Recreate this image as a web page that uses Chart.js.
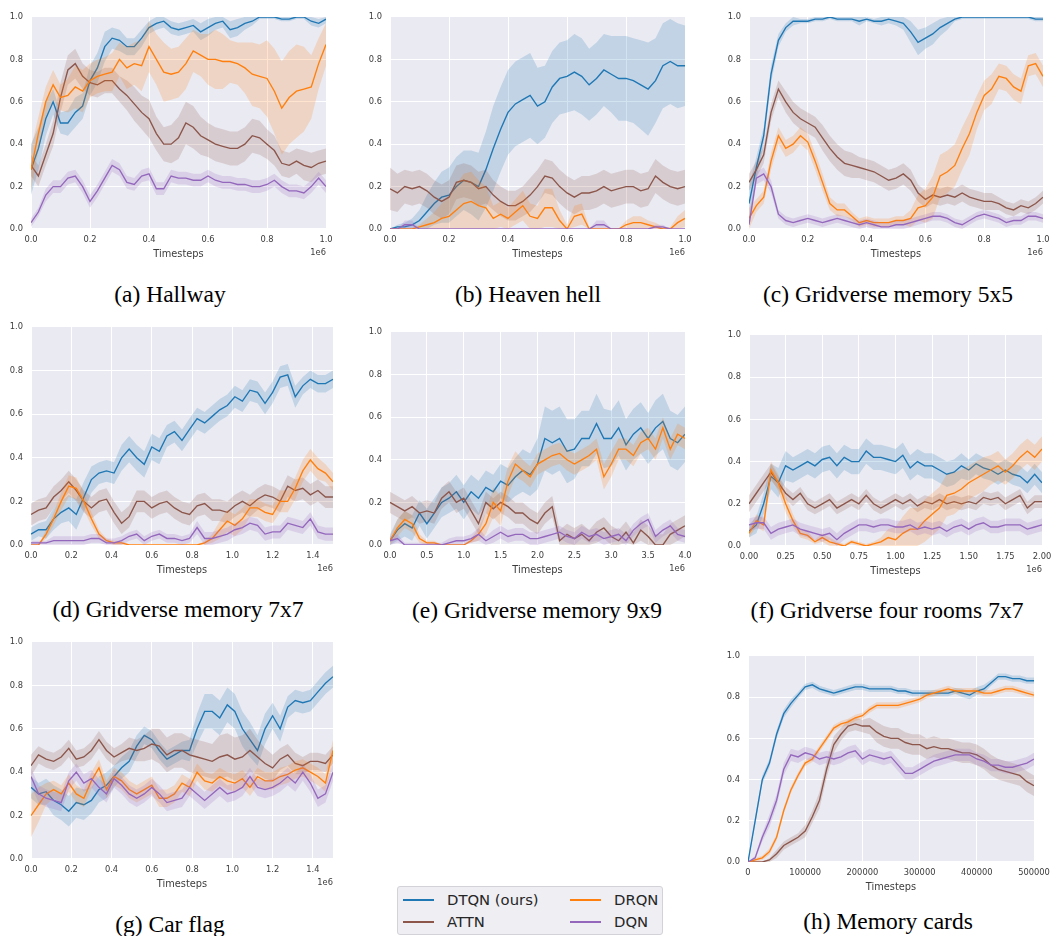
<!DOCTYPE html>
<html>
<head>
<meta charset="utf-8">
<script src="https://cdn.jsdelivr.net/npm/chart.js@4.4.1/dist/chart.umd.min.js"></script>
<style>
  body { margin: 0; width: 1052px; height: 936px; background: #fff; position: relative; overflow: hidden; }
  .panel { position: absolute; }
  .cap { position: absolute; width: 320px; height: 26px; line-height: 26px; text-align: center; white-space: nowrap;
         font-family: "Liberation Serif", "Times New Roman", serif; font-size: 23.5px; color: #000; }
  #legend { position: absolute; left: 397px; top: 886px; width: 264px; height: 47px; border: 1px solid #d2d2d8;
            border-radius: 3px; background: #eeeef3; font-family: "DejaVu Sans", sans-serif; font-size: 14.8px; color: #262626; }
  .li { position: absolute; height: 20px; line-height: 20px; white-space: nowrap; }
  .sw { display: inline-block; width: 31px; height: 2px; vertical-align: middle; margin-right: 13px; position: relative; top: -1px; }
</style>
</head>
<body>
<div id="legend"></div>
<script>
// ---- Series names / colours ----
const seriesNames = ["DTQN (ours)", "ATTN", "DRQN", "DQN"];
const seriesRGB = ["31,119,180", "140,86,75", "255,127,14", "148,103,189"];

// ---- Tick values ----
const yTicks = [0, 0.2, 0.4, 0.6, 0.8, 1.0];
const xTicksUnit = [0, 0.2, 0.4, 0.6, 0.8, 1.0];
const xTicks15 = [0, 0.2, 0.4, 0.6, 0.8, 1.0, 1.2, 1.4];
const xTicks4 = [0, 0.5, 1.0, 1.5, 2.0, 2.5, 3.0, 3.5, 4.0];
const xTicks2 = [0, 0.25, 0.5, 0.75, 1.0, 1.25, 1.5, 1.75, 2.0];
const xTicksCards = [0, 100000, 200000, 300000, 400000, 500000];

// ---- (a) Hallway ----
const hallwayDTQN = [0.28,0.38,0.52,0.6,0.5,0.5,0.55,0.58,0.7,0.76,0.86,0.9,0.89,0.86,0.86,0.9,0.95,0.97,0.98,0.95,0.94,0.95,0.96,0.93,0.95,0.97,0.98,0.94,0.95,0.97,0.98,1.0,1.0,1.0,0.99,0.99,1.0,1.0,0.98,0.97,0.99];
const hallwayDTQNsd = [0.12,0.1,0.08,0.06,0.05,0.06,0.07,0.06,0.07,0.07,0.07,0.05,0.05,0.04,0.04,0.04,0.03,0.03,0.03,0.03,0.03,0.03,0.03,0.04,0.04,0.03,0.03,0.04,0.04,0.03,0.02,0.01,0.01,0.01,0.01,0.01,0.01,0.01,0.02,0.02,0.02];
const hallwayATTN = [0.3,0.25,0.35,0.45,0.62,0.75,0.78,0.72,0.69,0.68,0.7,0.7,0.66,0.63,0.59,0.55,0.52,0.45,0.4,0.4,0.43,0.5,0.48,0.44,0.42,0.4,0.39,0.38,0.38,0.4,0.44,0.43,0.4,0.37,0.31,0.3,0.32,0.3,0.29,0.31,0.32];
const hallwayATTNsd = [0.05,0.05,0.05,0.06,0.07,0.07,0.07,0.06,0.06,0.06,0.06,0.06,0.06,0.07,0.08,0.08,0.09,0.08,0.08,0.09,0.1,0.1,0.1,0.09,0.08,0.08,0.08,0.08,0.08,0.08,0.08,0.08,0.07,0.07,0.06,0.06,0.06,0.07,0.07,0.06,0.06];
const hallwayDRQN = [0.28,0.45,0.6,0.68,0.62,0.63,0.67,0.65,0.7,0.72,0.73,0.74,0.8,0.76,0.78,0.77,0.86,0.8,0.74,0.73,0.74,0.78,0.84,0.82,0.8,0.8,0.79,0.79,0.78,0.76,0.73,0.72,0.71,0.65,0.57,0.62,0.65,0.66,0.67,0.78,0.87];
const hallwayDRQNsd = [0.1,0.08,0.07,0.07,0.06,0.08,0.1,0.1,0.08,0.08,0.08,0.09,0.08,0.1,0.1,0.12,0.12,0.12,0.14,0.12,0.12,0.12,0.1,0.1,0.12,0.14,0.13,0.1,0.1,0.12,0.15,0.15,0.18,0.2,0.22,0.22,0.22,0.2,0.15,0.12,0.1];
const hallwayDQN = [0.03,0.08,0.16,0.2,0.2,0.24,0.25,0.2,0.13,0.18,0.24,0.3,0.28,0.22,0.21,0.25,0.26,0.19,0.19,0.25,0.24,0.24,0.23,0.23,0.25,0.23,0.22,0.22,0.21,0.21,0.2,0.2,0.21,0.23,0.2,0.18,0.18,0.17,0.2,0.24,0.2];
const hallwayDQNsd = [0.02,0.02,0.03,0.03,0.03,0.03,0.03,0.03,0.03,0.03,0.03,0.03,0.03,0.03,0.03,0.03,0.03,0.03,0.03,0.03,0.03,0.03,0.03,0.03,0.03,0.03,0.03,0.03,0.03,0.03,0.03,0.03,0.03,0.03,0.03,0.03,0.03,0.03,0.03,0.03,0.03];

// ---- (b) Heaven hell ----
const heavenDTQN = [0,0.01,0.01,0.02,0.04,0.08,0.12,0.15,0.16,0.2,0.23,0.22,0.2,0.28,0.38,0.47,0.55,0.59,0.61,0.63,0.58,0.6,0.67,0.71,0.72,0.74,0.72,0.68,0.71,0.75,0.73,0.71,0.71,0.7,0.68,0.66,0.7,0.77,0.79,0.77,0.77];
const heavenDTQNsd = [0,0.01,0.02,0.03,0.05,0.08,0.1,0.12,0.13,0.14,0.14,0.15,0.16,0.18,0.2,0.2,0.2,0.2,0.2,0.2,0.18,0.17,0.17,0.17,0.17,0.18,0.18,0.17,0.17,0.17,0.18,0.2,0.2,0.2,0.21,0.22,0.2,0.2,0.2,0.2,0.19];
const heavenATTN = [0.19,0.17,0.2,0.19,0.2,0.18,0.15,0.13,0.15,0.22,0.23,0.22,0.19,0.2,0.16,0.13,0.11,0.11,0.13,0.16,0.2,0.25,0.24,0.2,0.17,0.15,0.17,0.17,0.18,0.2,0.18,0.19,0.2,0.2,0.18,0.19,0.25,0.22,0.2,0.19,0.2];
const heavenATTNsd = [0.1,0.09,0.08,0.08,0.08,0.08,0.08,0.08,0.08,0.08,0.08,0.08,0.08,0.08,0.07,0.07,0.07,0.07,0.07,0.08,0.08,0.08,0.08,0.08,0.08,0.08,0.08,0.08,0.08,0.08,0.08,0.08,0.08,0.08,0.08,0.08,0.08,0.08,0.08,0.08,0.08];
const heavenDRQN = [0,0,0,0,0.01,0.02,0.03,0.05,0.06,0.09,0.12,0.13,0.11,0.1,0.05,0.07,0.05,0.08,0.11,0.06,0.05,0.1,0.1,0.04,0,0.06,0.07,0,0,0,0,0,0.02,0.03,0.03,0.02,0.01,0,0,0.03,0.05];
const heavenDRQNsd = [0,0,0,0,0.01,0.03,0.05,0.07,0.09,0.12,0.14,0.14,0.12,0.1,0.06,0.06,0.05,0.06,0.07,0.06,0.06,0.09,0.09,0.05,0.02,0.05,0.05,0.01,0,0,0,0,0.02,0.03,0.03,0.02,0.02,0.01,0.01,0.03,0.04];
const heavenDQN = [0,0,0.02,0.02,0,0,0,0,0,0,0,0,0,0,0,0,0,0,0,0,0,0,0,0,0,0,0,0,0.02,0.02,0,0,0,0,0,0,0.01,0.01,0,0,0];
const heavenDQNsd = [0,0,0.02,0.02,0,0,0,0,0,0,0,0,0,0,0,0,0,0,0,0,0,0,0,0,0,0,0,0,0.02,0.02,0,0,0,0,0,0,0.01,0.01,0,0,0];

// ---- (c) Gridverse memory 5x5 ----
const mem5DTQN = [0.12,0.29,0.44,0.73,0.89,0.95,0.98,0.98,0.98,0.99,0.99,1.0,0.99,0.99,0.99,0.98,0.99,0.98,0.98,0.99,0.98,0.97,0.93,0.88,0.9,0.92,0.95,0.97,0.99,1.0,1.0,1.0,1.0,1.0,1.0,1.0,1.0,1.0,1.0,0.99,0.99];
const mem5DTQNsd = [0.08,0.05,0.04,0.04,0.03,0.02,0.02,0.01,0.01,0.01,0.01,0.01,0.01,0.01,0.01,0.02,0.01,0.01,0.02,0.02,0.02,0.03,0.05,0.06,0.05,0.05,0.04,0.03,0.01,0.01,0.01,0.01,0.01,0.01,0.01,0.01,0.01,0.01,0.01,0.01,0.01];
const mem5ATTN = [0.22,0.28,0.35,0.55,0.66,0.6,0.55,0.52,0.5,0.48,0.43,0.38,0.34,0.31,0.3,0.29,0.28,0.27,0.25,0.23,0.24,0.26,0.23,0.17,0.14,0.16,0.15,0.16,0.15,0.17,0.15,0.14,0.13,0.13,0.12,0.1,0.09,0.11,0.1,0.12,0.15];
const mem5ATTNsd = [0.04,0.04,0.04,0.04,0.04,0.05,0.05,0.05,0.05,0.05,0.06,0.06,0.06,0.06,0.06,0.05,0.05,0.05,0.05,0.05,0.05,0.05,0.05,0.04,0.04,0.04,0.04,0.04,0.04,0.04,0.04,0.04,0.04,0.04,0.03,0.03,0.03,0.03,0.03,0.03,0.03];
const mem5DRQN = [0.05,0.11,0.15,0.32,0.44,0.38,0.4,0.44,0.41,0.32,0.22,0.12,0.09,0.09,0.06,0.03,0.04,0.03,0.03,0.03,0.04,0.04,0.05,0.1,0.11,0.15,0.25,0.27,0.3,0.38,0.45,0.55,0.63,0.66,0.72,0.71,0.67,0.65,0.77,0.78,0.72];
const mem5DRQNsd = [0.05,0.03,0.03,0.04,0.04,0.04,0.04,0.04,0.04,0.04,0.04,0.03,0.03,0.03,0.02,0.02,0.02,0.02,0.02,0.02,0.02,0.02,0.04,0.06,0.08,0.1,0.1,0.1,0.1,0.1,0.1,0.08,0.07,0.07,0.06,0.06,0.06,0.06,0.05,0.05,0.05];
const mem5DQN = [0.02,0.24,0.26,0.2,0.07,0.04,0.03,0.04,0.05,0.04,0.03,0.04,0.05,0.04,0.03,0.02,0.03,0.02,0.01,0.01,0.02,0.02,0.03,0.04,0.05,0.06,0.06,0.05,0.03,0.02,0.04,0.06,0.07,0.06,0.05,0.03,0.04,0.04,0.06,0.06,0.05];
const mem5DQNsd = [0.03,0.03,0.03,0.03,0.02,0.02,0.02,0.02,0.02,0.02,0.02,0.02,0.02,0.02,0.02,0.02,0.02,0.02,0.02,0.02,0.02,0.02,0.02,0.02,0.02,0.02,0.02,0.02,0.02,0.02,0.02,0.02,0.02,0.02,0.02,0.02,0.02,0.02,0.02,0.02,0.02];

// ---- (d) Gridverse memory 7x7 ----
const mem7DTQN = [0.05,0.07,0.07,0.12,0.15,0.17,0.14,0.22,0.3,0.33,0.34,0.33,0.4,0.44,0.4,0.37,0.45,0.43,0.5,0.52,0.48,0.53,0.58,0.56,0.59,0.62,0.64,0.68,0.66,0.71,0.7,0.65,0.7,0.77,0.78,0.68,0.73,0.76,0.74,0.74,0.76];
const mem7DTQNsd = [0.03,0.03,0.04,0.05,0.05,0.06,0.07,0.07,0.06,0.05,0.05,0.05,0.06,0.06,0.06,0.06,0.06,0.06,0.05,0.05,0.05,0.05,0.05,0.05,0.05,0.05,0.05,0.05,0.05,0.05,0.05,0.05,0.05,0.05,0.05,0.05,0.04,0.04,0.04,0.04,0.04];
const mem7ATTN = [0.14,0.16,0.17,0.22,0.25,0.29,0.25,0.2,0.17,0.2,0.21,0.15,0.1,0.13,0.2,0.2,0.17,0.19,0.2,0.17,0.15,0.14,0.18,0.19,0.16,0.16,0.15,0.18,0.2,0.18,0.21,0.23,0.22,0.2,0.27,0.25,0.26,0.23,0.25,0.22,0.22];
const mem7ATTNsd = [0.05,0.05,0.05,0.05,0.05,0.05,0.05,0.05,0.05,0.05,0.05,0.05,0.05,0.05,0.05,0.05,0.05,0.05,0.05,0.05,0.05,0.05,0.05,0.05,0.05,0.05,0.05,0.05,0.05,0.05,0.05,0.05,0.05,0.05,0.05,0.05,0.05,0.05,0.05,0.05,0.05];
const mem7DRQN = [0,0,0.05,0.12,0.2,0.27,0.26,0.2,0.12,0.05,0.02,0.01,0.01,0,0,0,0,0,0,0,0,0,0,0.01,0.03,0.07,0.11,0.09,0.12,0.17,0.17,0.15,0.14,0.2,0.2,0.26,0.34,0.39,0.35,0.33,0.29];
const mem7DRQNsd = [0,0,0.02,0.03,0.04,0.05,0.05,0.04,0.03,0.02,0.01,0.01,0.01,0,0,0,0,0,0,0,0,0,0,0.01,0.02,0.04,0.05,0.05,0.05,0.04,0.04,0.04,0.04,0.05,0.05,0.05,0.05,0.05,0.05,0.04,0.04];
const mem7DQN = [0.01,0.01,0.01,0.02,0.02,0.02,0.02,0.02,0.03,0.03,0.01,0.01,0.02,0.04,0.05,0.02,0.04,0.05,0.03,0.03,0.02,0.03,0.08,0.03,0.03,0.04,0.05,0.07,0.08,0.1,0.09,0.05,0.06,0.06,0.1,0.09,0.08,0.12,0.06,0.05,0.05];
const mem7DQNsd = [0.01,0.01,0.01,0.02,0.02,0.02,0.02,0.02,0.02,0.02,0.02,0.02,0.02,0.02,0.02,0.02,0.02,0.02,0.02,0.02,0.02,0.02,0.03,0.03,0.03,0.03,0.03,0.03,0.03,0.03,0.03,0.03,0.03,0.03,0.03,0.03,0.03,0.03,0.03,0.03,0.03];

// ---- (e) Gridverse memory 9x9 ----
const mem9DTQN = [0.02,0.07,0.1,0.08,0.15,0.1,0.15,0.2,0.22,0.25,0.2,0.25,0.22,0.27,0.25,0.3,0.28,0.32,0.35,0.33,0.38,0.5,0.48,0.5,0.44,0.45,0.5,0.5,0.57,0.5,0.5,0.55,0.47,0.52,0.55,0.5,0.55,0.58,0.5,0.48,0.52];
const mem9DTQNsd = [0.03,0.05,0.06,0.06,0.06,0.07,0.07,0.07,0.07,0.08,0.08,0.08,0.08,0.08,0.08,0.08,0.08,0.09,0.1,0.1,0.12,0.15,0.15,0.15,0.15,0.14,0.13,0.13,0.14,0.14,0.13,0.13,0.12,0.12,0.12,0.12,0.13,0.13,0.13,0.13,0.13];
const mem9ATTN = [0.2,0.18,0.16,0.18,0.15,0.16,0.15,0.22,0.25,0.2,0.22,0.16,0.1,0.2,0.17,0.2,0.18,0.15,0.15,0.12,0.1,0.15,0.18,0.02,0.05,0.03,0.05,0.02,0.06,0.08,0.04,0.02,0.06,0.01,0.07,0.04,0,0,0.05,0.07,0.09];
const mem9ATTNsd = [0.05,0.05,0.05,0.05,0.05,0.05,0.05,0.05,0.05,0.05,0.05,0.05,0.05,0.05,0.05,0.05,0.05,0.05,0.05,0.05,0.05,0.05,0.05,0.05,0.05,0.05,0.05,0.05,0.05,0.05,0.05,0.05,0.05,0.05,0.05,0.05,0.05,0.05,0.05,0.05,0.05];
const mem9DRQN = [0.02,0.08,0.12,0.1,0.03,0.01,0.01,0,0,0,0,0.02,0.05,0.1,0.2,0.16,0.3,0.38,0.35,0.32,0.38,0.4,0.42,0.43,0.4,0.38,0.4,0.42,0.45,0.32,0.38,0.45,0.45,0.42,0.48,0.5,0.45,0.55,0.45,0.52,0.5];
const mem9DRQNsd = [0.02,0.04,0.04,0.04,0.02,0.01,0.01,0,0,0,0,0.01,0.03,0.05,0.07,0.07,0.07,0.06,0.05,0.05,0.05,0.05,0.05,0.05,0.05,0.05,0.05,0.05,0.05,0.06,0.06,0.05,0.05,0.05,0.05,0.05,0.05,0.05,0.05,0.05,0.05];
const mem9DQN = [0.02,0.03,0,0,0,0,0,0,0.01,0.02,0.02,0.03,0.05,0.02,0.04,0.06,0.04,0.05,0.05,0.03,0.03,0.04,0.05,0.06,0.04,0.03,0.06,0.04,0.05,0.03,0.04,0.05,0.02,0.07,0.1,0.12,0.04,0.07,0.09,0.05,0.04];
const mem9DQNsd = [0.02,0.02,0.01,0.01,0.01,0.01,0.01,0.01,0.02,0.02,0.02,0.02,0.03,0.02,0.03,0.03,0.03,0.03,0.03,0.03,0.03,0.03,0.03,0.03,0.03,0.03,0.03,0.03,0.03,0.03,0.03,0.03,0.03,0.03,0.03,0.03,0.03,0.03,0.03,0.03,0.03];

// ---- (f) Gridverse four rooms 7x7 ----
const roomsDTQN = [0.07,0.1,0.2,0.33,0.3,0.38,0.36,0.38,0.4,0.38,0.41,0.42,0.38,0.42,0.4,0.4,0.45,0.42,0.42,0.41,0.4,0.43,0.37,0.4,0.38,0.38,0.36,0.34,0.35,0.38,0.36,0.39,0.37,0.36,0.34,0.36,0.34,0.33,0.3,0.34,0.3];
const roomsDTQNsd = [0.03,0.04,0.05,0.06,0.07,0.07,0.06,0.06,0.06,0.06,0.06,0.06,0.06,0.06,0.06,0.06,0.06,0.06,0.06,0.06,0.06,0.06,0.06,0.06,0.06,0.06,0.06,0.06,0.06,0.06,0.05,0.05,0.05,0.05,0.05,0.05,0.05,0.05,0.05,0.05,0.05];
const roomsATTN = [0.2,0.25,0.3,0.35,0.3,0.25,0.22,0.25,0.2,0.18,0.2,0.22,0.18,0.2,0.22,0.2,0.24,0.2,0.18,0.2,0.22,0.2,0.22,0.19,0.21,0.2,0.22,0.2,0.21,0.2,0.21,0.2,0.23,0.22,0.23,0.2,0.22,0.24,0.18,0.21,0.21];
const roomsATTNsd = [0.04,0.04,0.04,0.04,0.03,0.03,0.03,0.03,0.03,0.03,0.03,0.03,0.03,0.03,0.03,0.03,0.03,0.03,0.03,0.03,0.03,0.03,0.03,0.03,0.03,0.03,0.03,0.03,0.03,0.03,0.03,0.03,0.03,0.03,0.03,0.03,0.03,0.03,0.03,0.03,0.03];
const roomsDRQN = [0.06,0.12,0.1,0.36,0.3,0.2,0.12,0.06,0.05,0.02,0.04,0.02,0.01,0,0.02,0.01,0,0.01,0.02,0.04,0.03,0.06,0.08,0.08,0.12,0.15,0.18,0.24,0.25,0.27,0.3,0.32,0.34,0.36,0.38,0.35,0.38,0.42,0.45,0.42,0.46];
const roomsDRQNsd = [0.02,0.03,0.03,0.04,0.04,0.04,0.03,0.02,0.02,0.01,0.02,0.02,0.01,0.01,0.01,0.01,0.01,0.01,0.02,0.04,0.06,0.08,0.1,0.1,0.1,0.1,0.1,0.1,0.1,0.09,0.08,0.08,0.08,0.07,0.07,0.06,0.06,0.06,0.06,0.06,0.06];
const roomsDQN = [0.1,0.11,0.11,0.06,0.08,0.09,0.1,0.08,0.07,0.06,0.05,0.06,0.03,0.06,0.08,0.1,0.1,0.09,0.1,0.1,0.09,0.09,0.1,0.08,0.09,0.08,0.09,0.07,0.09,0.1,0.08,0.1,0.11,0.09,0.09,0.1,0.1,0.1,0.08,0.09,0.1];
const roomsDQNsd = [0.03,0.03,0.03,0.03,0.03,0.03,0.03,0.03,0.03,0.03,0.03,0.03,0.03,0.03,0.03,0.03,0.03,0.03,0.03,0.03,0.03,0.03,0.03,0.03,0.03,0.03,0.03,0.03,0.03,0.03,0.03,0.03,0.03,0.03,0.03,0.03,0.03,0.03,0.03,0.03,0.03];

// ---- (g) Car flag ----
const carDTQN = [0.33,0.3,0.31,0.27,0.25,0.22,0.26,0.25,0.27,0.32,0.34,0.38,0.42,0.45,0.52,0.57,0.55,0.5,0.46,0.48,0.5,0.5,0.6,0.68,0.68,0.65,0.71,0.68,0.6,0.55,0.5,0.6,0.66,0.6,0.7,0.73,0.72,0.73,0.77,0.81,0.84];
const carDTQNsd = [0.05,0.05,0.06,0.07,0.07,0.07,0.07,0.07,0.06,0.06,0.06,0.05,0.05,0.05,0.05,0.04,0.04,0.04,0.04,0.04,0.04,0.05,0.07,0.08,0.08,0.08,0.08,0.08,0.08,0.08,0.07,0.07,0.06,0.06,0.05,0.05,0.05,0.05,0.05,0.05,0.05];
const carATTN = [0.43,0.48,0.46,0.45,0.47,0.51,0.46,0.47,0.5,0.55,0.5,0.47,0.49,0.51,0.5,0.51,0.53,0.52,0.48,0.5,0.5,0.48,0.47,0.46,0.45,0.47,0.48,0.46,0.47,0.5,0.47,0.44,0.42,0.46,0.48,0.44,0.43,0.45,0.45,0.44,0.48];
const carATTNsd = [0.05,0.04,0.04,0.04,0.04,0.04,0.04,0.04,0.04,0.04,0.04,0.04,0.04,0.05,0.05,0.06,0.07,0.08,0.08,0.08,0.08,0.08,0.08,0.08,0.08,0.1,0.1,0.1,0.1,0.1,0.08,0.07,0.06,0.05,0.05,0.05,0.04,0.04,0.04,0.04,0.04];
const carDRQN = [0.2,0.25,0.3,0.32,0.3,0.35,0.3,0.28,0.36,0.42,0.32,0.38,0.36,0.32,0.3,0.32,0.34,0.28,0.28,0.3,0.35,0.33,0.4,0.36,0.35,0.38,0.36,0.35,0.37,0.33,0.38,0.36,0.36,0.38,0.39,0.41,0.42,0.4,0.38,0.35,0.5];
const carDRQNsd = [0.1,0.08,0.05,0.04,0.04,0.04,0.04,0.04,0.04,0.04,0.04,0.04,0.04,0.04,0.04,0.04,0.04,0.04,0.04,0.04,0.04,0.04,0.04,0.04,0.04,0.04,0.04,0.04,0.04,0.04,0.04,0.04,0.04,0.04,0.04,0.04,0.04,0.04,0.04,0.04,0.05];
const carDQN = [0.38,0.3,0.28,0.27,0.26,0.36,0.4,0.35,0.37,0.33,0.3,0.37,0.34,0.3,0.28,0.3,0.33,0.3,0.26,0.27,0.28,0.33,0.3,0.27,0.3,0.33,0.3,0.31,0.33,0.38,0.33,0.32,0.33,0.35,0.38,0.35,0.4,0.35,0.28,0.3,0.4];
const carDQNsd = [0.04,0.04,0.04,0.04,0.04,0.04,0.04,0.04,0.04,0.04,0.04,0.04,0.04,0.04,0.04,0.04,0.04,0.04,0.04,0.04,0.04,0.04,0.04,0.04,0.04,0.04,0.04,0.04,0.04,0.04,0.04,0.04,0.04,0.04,0.04,0.04,0.04,0.04,0.04,0.04,0.04];

// ---- (h) Memory cards ----
const cardsDTQN = [0,0.2,0.4,0.48,0.62,0.72,0.77,0.81,0.85,0.86,0.84,0.83,0.82,0.83,0.84,0.85,0.85,0.84,0.84,0.84,0.84,0.83,0.83,0.82,0.82,0.82,0.82,0.82,0.82,0.83,0.82,0.81,0.83,0.84,0.87,0.9,0.9,0.89,0.89,0.88,0.88];
const cardsDTQNsd = [0,0.02,0.02,0.02,0.02,0.02,0.02,0.015,0.015,0.015,0.015,0.015,0.015,0.015,0.015,0.015,0.015,0.015,0.015,0.015,0.015,0.015,0.015,0.015,0.015,0.015,0.015,0.015,0.015,0.015,0.02,0.02,0.02,0.02,0.015,0.015,0.015,0.015,0.015,0.015,0.015];
const cardsATTN = [0,0,0,0.01,0.04,0.08,0.1,0.12,0.15,0.22,0.3,0.45,0.57,0.62,0.66,0.67,0.66,0.66,0.63,0.61,0.6,0.6,0.58,0.57,0.57,0.55,0.56,0.55,0.55,0.54,0.53,0.53,0.52,0.5,0.47,0.45,0.44,0.43,0.42,0.39,0.37];
const cardsATTNsd = [0,0,0,0.01,0.02,0.02,0.02,0.02,0.03,0.03,0.04,0.04,0.04,0.03,0.03,0.03,0.03,0.04,0.05,0.05,0.05,0.05,0.05,0.05,0.05,0.05,0.05,0.05,0.05,0.05,0.05,0.05,0.05,0.05,0.05,0.05,0.05,0.05,0.05,0.05,0.05];
const cardsDRQN = [0,0.01,0.02,0.05,0.12,0.25,0.35,0.42,0.48,0.5,0.55,0.6,0.65,0.67,0.68,0.7,0.71,0.74,0.76,0.76,0.76,0.76,0.77,0.78,0.79,0.81,0.82,0.83,0.84,0.83,0.83,0.83,0.83,0.82,0.82,0.83,0.84,0.84,0.83,0.82,0.81];
const cardsDRQNsd = [0,0.01,0.01,0.015,0.015,0.015,0.015,0.015,0.015,0.015,0.015,0.015,0.015,0.015,0.015,0.015,0.015,0.015,0.015,0.015,0.015,0.015,0.015,0.015,0.015,0.015,0.015,0.015,0.015,0.015,0.015,0.015,0.015,0.015,0.015,0.015,0.015,0.015,0.015,0.015,0.015];
const cardsDQN = [0,0.02,0.12,0.2,0.3,0.45,0.52,0.51,0.53,0.52,0.5,0.51,0.5,0.51,0.53,0.54,0.5,0.52,0.51,0.5,0.51,0.47,0.43,0.43,0.45,0.47,0.49,0.5,0.51,0.52,0.52,0.52,0.5,0.49,0.47,0.47,0.46,0.46,0.47,0.48,0.5];
const cardsDQNsd = [0,0.01,0.02,0.03,0.03,0.03,0.03,0.03,0.03,0.03,0.03,0.03,0.03,0.03,0.03,0.03,0.03,0.03,0.03,0.03,0.03,0.03,0.03,0.03,0.03,0.03,0.03,0.03,0.03,0.03,0.03,0.03,0.03,0.03,0.03,0.03,0.03,0.03,0.03,0.03,0.03];

// ---- Panels (plot-area box in page px: left, top, width, height) ----
const panels = [
  { box: [31, 10, 295, 219], xMax: 1, xTicks: xTicksUnit, dec: 1, offset: "1e6", caption: "(a) Hallway", cap: [170, 294],
    series: [[hallwayDTQN, hallwayDTQNsd], [hallwayATTN, hallwayATTNsd], [hallwayDRQN, hallwayDRQNsd], [hallwayDQN, hallwayDQNsd]] },
  { box: [390, 10, 295, 219], xMax: 1, xTicks: xTicksUnit, dec: 1, offset: "1e6", caption: "(b) Heaven hell", cap: [528, 294],
    series: [[heavenDTQN, heavenDTQNsd], [heavenATTN, heavenATTNsd], [heavenDRQN, heavenDRQNsd], [heavenDQN, heavenDQNsd]] },
  { box: [749, 10, 294, 219], xMax: 1, xTicks: xTicksUnit, dec: 1, offset: "1e6", caption: "(c) Gridverse memory 5x5", cap: [888, 294],
    series: [[mem5DTQN, mem5DTQNsd], [mem5ATTN, mem5ATTNsd], [mem5DRQN, mem5DRQNsd], [mem5DQN, mem5DQNsd]] },
  { box: [31, 320, 302, 225], xMax: 1.5, xTicks: xTicks15, dec: 1, offset: "1e6", caption: "(d) Gridverse memory 7x7", cap: [178, 609],
    series: [[mem7DTQN, mem7DTQNsd], [mem7ATTN, mem7ATTNsd], [mem7DRQN, mem7DRQNsd], [mem7DQN, mem7DQNsd]] },
  { box: [390, 325, 295, 220], xMax: 4, xTicks: xTicks4, dec: 1, offset: "1e6", caption: "(e) Gridverse memory 9x9", cap: [537, 610],
    series: [[mem9DTQN, mem9DTQNsd], [mem9ATTN, mem9ATTNsd], [mem9DRQN, mem9DRQNsd], [mem9DQN, mem9DQNsd]] },
  { box: [749, 328, 293, 218], xMax: 2, xTicks: xTicks2, dec: 2, offset: "1e6", caption: "(f) Gridverse four rooms 7x7", cap: [887, 610],
    series: [[roomsDTQN, roomsDTQNsd], [roomsATTN, roomsATTNsd], [roomsDRQN, roomsDRQNsd], [roomsDQN, roomsDQNsd]] },
  { box: [31, 635, 302, 224], xMax: 1.5, xTicks: xTicks15, dec: 1, offset: "1e6", caption: "(g) Car flag", cap: [170, 924],
    series: [[carDTQN, carDTQNsd], [carATTN, carATTNsd], [carDRQN, carDRQNsd], [carDQN, carDQNsd]] },
  { box: [748, 649, 286, 213], xMax: 500000, xTicks: xTicksCards, dec: 0, offset: "", caption: "(h) Memory cards", cap: [888, 921],
    series: [[cardsDTQN, cardsDTQNsd], [cardsATTN, cardsATTNsd], [cardsDRQN, cardsDRQNsd], [cardsDQN, cardsDQNsd]] }
];

// ---- Helpers ----
const TICK_COLOR = "#3c3c3c";
const PAD_L = 31, PAD_T = 6, PAD_R = 22, PAD_B = 34;

const plotBg = {
  id: "plotBg",
  beforeDraw(chart) {
    const a = chart.chartArea, c = chart.ctx;
    c.save();
    c.fillStyle = "#eaeaf2";
    c.fillRect(a.left, a.top, a.right - a.left, a.bottom - a.top);
    c.restore();
  }
};

const axisText = {
  id: "axisText",
  afterDraw(chart, args, opts) {
    const a = chart.chartArea, c = chart.ctx;
    c.save();
    c.fillStyle = TICK_COLOR;
    c.textBaseline = "middle";
    c.font = '9.8px "DejaVu Sans"';
    c.textAlign = "center";
    c.fillText("Timesteps", (a.left + a.right) / 2, a.bottom + 25);
    if (opts.offset) {
      c.font = '8.3px "DejaVu Sans"';
      c.textAlign = "right";
      c.fillText(opts.offset, a.right, a.bottom + 24);
    }
    c.restore();
  }
};

function bandSets(mean, sd, rgb, xMax) {
  const step = xMax / (mean.length - 1);
  const pts = f => mean.map((m, i) => ({ x: i * step, y: f(m, sd[i] ?? 0) }));
  return [
    { data: pts((m, s) => Math.min(1, m + s)), borderWidth: 0, borderColor: "rgba(0,0,0,0)", pointRadius: 0, fill: false },
    { data: pts((m, s) => Math.max(0, m - s)), borderWidth: 0, borderColor: "rgba(0,0,0,0)", pointRadius: 0,
      fill: "-1", backgroundColor: `rgba(${rgb},0.2)` },
    { data: pts(m => m), borderColor: `rgb(${rgb})`, borderWidth: 1.35, pointRadius: 0, fill: false }
  ];
}

function makePanel(p) {
  const [left, top, w, h] = p.box;
  const W = w + PAD_L + PAD_R, H = h + PAD_T + PAD_B;
  const wrap = document.createElement("div");
  wrap.className = "panel";
  wrap.style.left = (left - PAD_L) + "px";
  wrap.style.top = (top - PAD_T) + "px";
  const canvas = document.createElement("canvas");
  canvas.width = W; canvas.height = H;
  canvas.style.width = W + "px"; canvas.style.height = H + "px";
  wrap.appendChild(canvas);
  document.body.appendChild(wrap);

  // bottom -> top drawing order: DTQN, ATTN, DRQN, DQN
  let datasets = [];
  p.series.forEach((s, k) => { datasets = datasets.concat(bandSets(s[0], s[1], seriesRGB[k], p.xMax)); });
  datasets.forEach((d, i) => { d.order = datasets.length - i; });

  const font = { family: "DejaVu Sans", size: 8.3 };
  new Chart(canvas, {
    type: "line",
    data: { datasets },
    options: {
      responsive: false,
      animation: false,
      events: [],
      layout: { padding: { top: PAD_T, right: PAD_R, left: 0, bottom: 0 } },
      plugins: { legend: { display: false }, tooltip: { enabled: false }, axisText: { offset: p.offset } },
      scales: {
        x: {
          type: "linear", min: 0, max: p.xMax,
          afterFit(s) { s.height = PAD_B; },
          afterBuildTicks(s) { s.ticks = p.xTicks.map(v => ({ value: v })); },
          ticks: { autoSkip: false, maxRotation: 0, padding: 6, color: TICK_COLOR, font,
                   callback: v => p.dec ? Number(v).toFixed(p.dec) : String(v) },
          grid: { color: "#ffffff", lineWidth: 1, drawTicks: false },
          border: { display: false }
        },
        y: {
          min: 0, max: 1,
          afterFit(s) { s.width = PAD_L; },
          afterBuildTicks(s) { s.ticks = yTicks.map(v => ({ value: v })); },
          ticks: { padding: 8, color: TICK_COLOR, font, callback: v => Number(v).toFixed(1) },
          grid: { color: "#ffffff", lineWidth: 1, drawTicks: false },
          border: { display: false }
        }
      }
    },
    plugins: [plotBg, axisText]
  });

  const cap = document.createElement("div");
  cap.className = "cap";
  cap.textContent = p.caption;
  cap.style.left = (p.cap[0] - 160) + "px";
  cap.style.top = (p.cap[1] - 13) + "px";
  document.body.appendChild(cap);
}

panels.forEach(makePanel);

// ---- Legend (two columns: DTQN/ATTN, DRQN/DQN) ----
const legend = document.getElementById("legend");
const legendPos = [[5, 3], [5, 25], [172, 3], [172, 25]];
seriesNames.forEach((name, k) => {
  const item = document.createElement("div");
  item.className = "li";
  item.style.left = legendPos[k][0] + "px";
  item.style.top = legendPos[k][1] + "px";
  const sw = document.createElement("span");
  sw.className = "sw";
  sw.style.background = `rgb(${seriesRGB[k]})`;
  item.appendChild(sw);
  item.appendChild(document.createTextNode(name));
  legend.appendChild(item);
});
</script>
</body>
</html>
